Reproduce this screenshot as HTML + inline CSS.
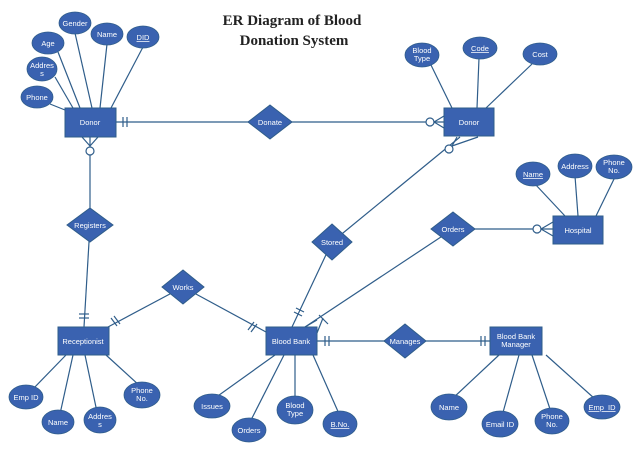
<!DOCTYPE html>
<html><head><meta charset="utf-8"><style>
html,body{margin:0;padding:0;background:#fff;width:638px;height:451px;overflow:hidden}
svg{display:block}
.l{stroke:#2f5d8a;stroke-width:1.2;fill:none}
.e{fill:#3a62b0;stroke:#2f5d8a;stroke-width:0.8}
.t{fill:#fff;font-family:"Liberation Sans",sans-serif;font-size:7.5px;text-anchor:middle}
.u{text-decoration:underline}
</style></head><body>
<svg width="638" height="451" viewBox="0 0 638 451" xmlns="http://www.w3.org/2000/svg">
<text x="292" y="25" font-family="Liberation Serif,serif" font-weight="bold" font-size="15" text-anchor="middle" fill="#222">ER Diagram of Blood</text>
<text x="294" y="45" font-family="Liberation Serif,serif" font-weight="bold" font-size="15" text-anchor="middle" fill="#222">Donation System</text>
<g class="l">
<!-- left donor attrs -->
<line x1="75" y1="33" x2="92" y2="108"/><line x1="58" y1="52" x2="80" y2="108"/>
<line x1="107" y1="44" x2="100" y2="108"/><line x1="143" y1="47" x2="111" y2="108"/>
<line x1="55" y1="77" x2="73" y2="108"/><line x1="50" y1="104" x2="65" y2="110"/>
<!-- donate -->
<line x1="116" y1="122" x2="444" y2="122"/>
<line x1="123" y1="117" x2="123" y2="127"/><line x1="127" y1="117" x2="127" y2="127"/>
<circle cx="430" cy="122" r="4" fill="#fff"/>
<line x1="434" y1="122" x2="444" y2="116"/><line x1="434" y1="122" x2="444" y2="128"/>
<!-- registers -->
<line x1="90" y1="136" x2="90" y2="225"/><line x1="90" y1="225" x2="84" y2="327"/>
<circle cx="90" cy="151" r="4" fill="#fff"/>
<line x1="82" y1="137" x2="90" y2="146"/><line x1="98" y1="137" x2="90" y2="146"/>
<line x1="79" y1="314" x2="89" y2="314"/><line x1="79" y1="318" x2="89" y2="318"/>
<!-- right donor attrs -->
<line x1="430" y1="63" x2="452" y2="108"/><line x1="479" y1="58" x2="477" y2="108"/><line x1="532" y1="64" x2="486" y2="108"/>
<!-- stored -->
<line x1="460" y1="137" x2="332" y2="242"/><line x1="332" y1="242" x2="292" y2="327"/>
<circle cx="449" cy="149" r="4" fill="#fff"/>
<line x1="457" y1="137" x2="452" y2="146"/><line x1="478" y1="137" x2="452" y2="146"/>
<line x1="294" y1="312" x2="302" y2="316"/><line x1="296" y1="308" x2="304" y2="312"/>
<!-- orders -->
<line x1="453" y1="229" x2="553" y2="229"/>
<circle cx="537" cy="229" r="4" fill="#fff"/>
<line x1="541" y1="229" x2="553" y2="222"/><line x1="541" y1="229" x2="553" y2="236"/>
<line x1="453" y1="229" x2="305" y2="327"/>
<line x1="317" y1="320" x2="305" y2="327"/><line x1="323" y1="318" x2="317" y2="333"/><line x1="319" y1="315" x2="328" y2="324"/>
<!-- hospital attrs -->
<line x1="535" y1="184" x2="565" y2="216"/><line x1="575" y1="176" x2="578" y2="216"/><line x1="615" y1="177" x2="596" y2="216"/>
<!-- works -->
<line x1="108" y1="327" x2="183" y2="287"/><line x1="183" y1="287" x2="266" y2="332"/>
<line x1="111" y1="318" x2="117" y2="326"/><line x1="114" y1="316" x2="120" y2="324"/>
<line x1="248" y1="330" x2="254" y2="322"/><line x1="251" y1="332" x2="257" y2="324"/>
<!-- manages -->
<line x1="317" y1="341" x2="490" y2="341"/>
<line x1="325" y1="336" x2="325" y2="346"/><line x1="329" y1="336" x2="329" y2="346"/>
<line x1="481" y1="336" x2="481" y2="346"/><line x1="485" y1="336" x2="485" y2="346"/>
<!-- receptionist attrs -->
<line x1="66" y1="355" x2="32" y2="390"/><line x1="73" y1="355" x2="60" y2="414"/><line x1="85" y1="355" x2="97" y2="412"/><line x1="106" y1="355" x2="140" y2="386"/>
<!-- blood bank attrs -->
<line x1="275" y1="355" x2="215" y2="398"/><line x1="284" y1="355" x2="250" y2="422"/><line x1="295" y1="355" x2="295" y2="400"/><line x1="313" y1="355" x2="340" y2="416"/>
<!-- manager attrs -->
<line x1="499" y1="355" x2="452" y2="399"/><line x1="519" y1="355" x2="502" y2="416"/><line x1="532" y1="355" x2="551" y2="412"/><line x1="546" y1="355" x2="595" y2="399"/>
</g>
<!-- entities -->
<g fill="#3a62b0" stroke="#2f5d8a" stroke-width="1">
<rect x="65" y="108" width="51" height="29"/>
<rect x="444" y="108" width="50" height="28"/>
<rect x="553" y="216" width="50" height="28"/>
<rect x="58" y="327" width="51" height="28"/>
<rect x="266" y="327" width="51" height="28"/>
<rect x="490" y="327" width="52" height="28"/>
<polygon points="270,105 292,122 270,139 248,122"/>
<polygon points="90,208 113,225 90,242 67,225"/>
<polygon points="332,224 352,242 332,260 312,242"/>
<polygon points="453,212 475,229 453,246 431,229"/>
<polygon points="183,270 204,287 183,304 162,287"/>
<polygon points="405,324 426,341 405,358 384,341"/>
</g>
<g class="t" font-size="8">
<text x="90" y="125">Donor</text><text x="469" y="125">Donor</text>
<text x="578" y="233">Hospital</text><text x="83" y="344">Receptionist</text>
<text x="291" y="344">Blood Bank</text>
<text x="516" y="339">Blood Bank</text><text x="516" y="347">Manager</text>
<text x="270" y="125">Donate</text><text x="90" y="228">Registers</text>
<text x="332" y="245">Stored</text><text x="453" y="232">Orders</text>
<text x="183" y="290">Works</text><text x="405" y="344">Manages</text>
</g>
<!-- attribute ellipses -->
<g class="e">
<ellipse cx="75" cy="23" rx="16" ry="11"/><ellipse cx="48" cy="43" rx="16" ry="11"/>
<ellipse cx="107" cy="34" rx="16" ry="11"/><ellipse cx="143" cy="37" rx="16" ry="11"/>
<ellipse cx="42" cy="69" rx="15" ry="12"/><ellipse cx="37" cy="97" rx="16" ry="11"/>
<ellipse cx="422" cy="55" rx="17" ry="12"/><ellipse cx="480" cy="48" rx="17" ry="11"/>
<ellipse cx="540" cy="54" rx="17" ry="11"/>
<ellipse cx="533" cy="174" rx="17" ry="12"/><ellipse cx="575" cy="166" rx="17" ry="12"/><ellipse cx="614" cy="167" rx="18" ry="12"/>
<ellipse cx="26" cy="397" rx="17" ry="12"/><ellipse cx="58" cy="422" rx="16" ry="12"/>
<ellipse cx="100" cy="420" rx="16" ry="13"/><ellipse cx="142" cy="395" rx="18" ry="13"/>
<ellipse cx="212" cy="406" rx="18" ry="12"/><ellipse cx="249" cy="430" rx="17" ry="12"/>
<ellipse cx="295" cy="410" rx="18" ry="14"/><ellipse cx="340" cy="424" rx="17" ry="13"/>
<ellipse cx="449" cy="407" rx="18" ry="13"/><ellipse cx="500" cy="424" rx="18" ry="13"/>
<ellipse cx="552" cy="421" rx="17" ry="13"/><ellipse cx="602" cy="407" rx="18" ry="12"/>
</g>
<g class="t">
<text x="75" y="26">Gender</text><text x="48" y="46">Age</text><text x="107" y="37">Name</text>
<text x="143" y="40" class="u">DID</text>
<text x="42" y="68">Addres</text><text x="42" y="76">s</text><text x="37" y="100">Phone</text>
<text x="422" y="53">Blood</text><text x="422" y="61">Type</text>
<text x="480" y="51" class="u">Code</text><text x="540" y="57">Cost</text>
<text x="533" y="177" class="u">Name</text><text x="575" y="169">Address</text>
<text x="614" y="165">Phone</text><text x="614" y="173">No.</text>
<text x="26" y="400">Emp ID</text><text x="58" y="425">Name</text>
<text x="100" y="419">Addres</text><text x="100" y="427">s</text>
<text x="142" y="393">Phone</text><text x="142" y="401">No.</text>
<text x="212" y="409">Issues</text><text x="249" y="433">Orders</text>
<text x="295" y="408">Blood</text><text x="295" y="416">Type</text>
<text x="340" y="427" class="u">B.No.</text>
<text x="449" y="410">Name</text><text x="500" y="427">Email ID</text>
<text x="552" y="419">Phone</text><text x="552" y="427">No.</text>
<text x="602" y="410" class="u">Emp_ID</text>
</g>
</svg>
</body></html>
